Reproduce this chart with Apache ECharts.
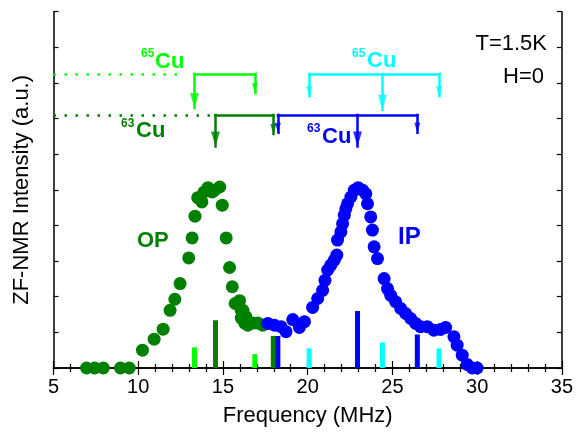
<!DOCTYPE html>
<html><head><meta charset="utf-8">
<script src="https://cdn.jsdelivr.net/npm/echarts@6.0.0/dist/echarts.min.js"></script>
<style>html,body{margin:0;padding:0;background:#fff}#c{width:576px;height:432px}</style>
</head><body><div id="c"></div>
<script>
// ---- data ----
const opFreq = [6.95, 7.43, 7.94, 8.95, 9.47, 10.25, 10.94, 11.47, 11.88, 12.16, 12.47, 12.98, 13.18, 13.35, 13.51, 13.76, 13.88, 14.12, 14.37, 14.51, 14.81, 14.96, 15.19, 15.39, 15.55, 15.72, 15.98, 16.08, 16.08, 16.18, 16.28, 16.35, 16.47, 16.76, 17.06, 17.35];
const opInt  = [0.0, 0.0, 0.0, 0.0, 0.0, 0.50, 0.81, 1.09, 1.62, 1.93, 2.37, 3.09, 3.65, 4.26, 4.78, 4.66, 4.94, 5.06, 4.94, 4.99, 5.08, 4.57, 3.65, 2.82, 2.28, 1.81, 1.89, 1.62, 1.40, 1.62, 1.26, 1.44, 1.20, 1.26, 1.26, 1.20];
const ipFreq = [17.65, 18.04, 18.43, 18.72, 19.12, 19.51, 19.81, 20.29, 20.59, 20.88, 21.02, 21.18, 21.37, 21.57, 21.72, 21.76, 21.96, 22.06, 22.16, 22.25, 22.35, 22.55, 22.75, 22.98, 23.24, 23.43, 23.53, 23.72, 23.82, 23.92, 24.12, 24.51, 24.71, 24.90, 25.19, 25.49, 25.78, 26.08, 26.37, 26.66, 27.06, 27.45, 27.84, 28.14, 28.63, 28.82, 29.12, 29.41, 29.71, 30.00];
const ipInt  = [1.25, 1.20, 1.16, 1.02, 1.36, 1.14, 1.30, 1.70, 1.95, 2.18, 2.46, 2.75, 2.89, 3.03, 3.17, 3.59, 3.82, 4.05, 4.29, 4.47, 4.61, 4.80, 4.99, 5.06, 4.99, 4.89, 4.61, 4.24, 3.87, 3.40, 3.07, 2.51, 2.23, 2.04, 1.86, 1.67, 1.53, 1.39, 1.25, 1.16, 1.16, 1.06, 1.08, 1.14, 0.88, 0.64, 0.36, 0.10, 0.0, 0.0];

// stick spectra (line positions, MHz, and relative heights)
const cu65OPFreq = [13.32, 16.88];          const cu65OPHeight = [0.58, 0.39];
const cu63OPFreq = [14.56, 17.97];          const cu63OPHeight = [1.34, 0.90];
const cu65IPFreq = [20.09, 24.41, 27.75];   const cu65IPHeight = [0.55, 0.72, 0.55];
const cu63IPFreq = [18.24, 22.94, 26.47];   const cu63IPHeight = [0.90, 1.60, 0.94];

// splitting-diagram levels and arrow tips (in intensity units)
const cu65Level = 8.25, cu63Level = 7.10;
const cu65OPTips = [7.30, 7.72];
const cu63OPTips = [6.22, 6.57];
const cu65IPTips = [7.63, 7.25, 7.63];
const cu63IPTips = [6.60, 6.22, 6.60];
const cu65DotEnd = 12.80, cu63DotEnd = 14.34;

const xTickLabels = [5, 10, 15, 20, 25, 30, 35];

// ---- colours ----
const C_DG = '#008000', C_LG = '#00ff00', C_CY = '#00ffff', C_BL = '#0000ff';

const chart = echarts.init(document.getElementById('c'), null, {renderer: 'canvas'});

function bars(freq, h, color) {
  return {type: 'bar', data: freq.map((f, i) => [f, h[i]]), barWidth: 5, barGap: '-100%',
          itemStyle: {color: color}, z: 2, silent: true, animation: false};
}
function comb(freq, level, tips, color) {
  const segs = [{coords: [[Math.min(...freq), level], [Math.max(...freq), level]]}];
  freq.forEach((f, i) => segs.push({coords: [[f, level], [f, tips[i]]]}));
  return {type: 'lines', coordinateSystem: 'cartesian2d', data: segs, symbol: 'none',
          lineStyle: {color: color, width: 2.5, opacity: 1, cap: 'square'}, z: 5, silent: true, animation: false};
}
function heads(freq, tips, heights, color) {
  const main = heights.indexOf(Math.max(...heights));
  return {type: 'scatter', z: 6, silent: true, animation: false,
    data: freq.map((f, i) => {
      const sz = i === main ? [9, 15] : [6, 10];
      return {value: [f, tips[i]], symbolSize: sz, symbolOffset: [0, -sz[1] / 2]};
    }),
    symbol: 'triangle', symbolRotate: 180, itemStyle: {color: color}};
}
function dotted(end, level, color) {
  return {type: 'lines', coordinateSystem: 'cartesian2d', data: [{coords: [[5, level], [end, level]]}],
          symbol: 'none', lineStyle: {color: color, width: 2.5, opacity: 1, type: [2.5, 8.5]}, z: 5, silent: true, animation: false};
}

const font = 'Liberation Sans, Arial, sans-serif';
const axisLine = {show: true, lineStyle: {color: '#000', width: 1.5}};

const option = {
  backgroundColor: '#fff',
  animation: false,
  grid: {left: 53.5, right: 10.5, top: 11.7, bottom: 64},
  xAxis: [
    {type: 'value', min: 5, max: 35, interval: 5, position: 'bottom',
     axisLine: axisLine, axisTick: {inside: true, length: 7, lineStyle: {color: '#000', width: 1.2}},
     minorTick: {show: true, splitNumber: 5, length: 4, lineStyle: {color: '#000', width: 1.2}},
     axisLabel: {color: '#000', fontSize: 20, fontFamily: font, margin: 9,
                 formatter: v => xTickLabels.includes(v) ? String(v) : ''},
     splitLine: {show: false},
     name: 'Frequency (MHz)', nameLocation: 'middle', nameGap: 37,
     nameTextStyle: {color: '#000', fontSize: 22, fontFamily: font}},
    {type: 'value', min: 5, max: 35, interval: 5, position: 'top',
     axisLine: axisLine, axisTick: {inside: true, length: 7, lineStyle: {color: '#000', width: 1.2}},
     minorTick: {show: true, splitNumber: 5, length: 4, lineStyle: {color: '#000', width: 1.2}},
     axisLabel: {show: false}, splitLine: {show: false}}
  ],
  yAxis: [
    {type: 'value', min: 0, max: 10, interval: 1, position: 'left',
     axisLine: axisLine, axisTick: {inside: true, length: 5, lineStyle: {color: '#000', width: 1.2}},
     axisLabel: {show: false}, splitLine: {show: false},
     name: 'ZF-NMR Intensity (a.u.)', nameLocation: 'middle', nameGap: 21,
     nameTextStyle: {color: '#000', fontSize: 22, fontFamily: font}},
    {type: 'value', min: 0, max: 10, interval: 1, position: 'right',
     axisLine: axisLine, axisTick: {inside: true, length: 5, lineStyle: {color: '#000', width: 1.2}},
     axisLabel: {show: false}, splitLine: {show: false}}
  ],
  series: [
    bars(cu65OPFreq, cu65OPHeight, C_LG),
    bars(cu63OPFreq, cu63OPHeight, C_DG),
    bars(cu65IPFreq, cu65IPHeight, C_CY),
    bars(cu63IPFreq, cu63IPHeight, C_BL),
    {type: 'scatter', data: opFreq.map((f, i) => [f, opInt[i]]), symbolSize: 13,
     itemStyle: {color: C_DG, opacity: 1}, z: 3, clip: true},
    {type: 'scatter', data: ipFreq.map((f, i) => [f, ipInt[i]]), symbolSize: 13,
     itemStyle: {color: C_BL, opacity: 1}, z: 3, clip: true},
    dotted(cu65DotEnd, cu65Level, C_LG),
    dotted(cu63DotEnd, cu63Level, C_DG),
    comb(cu65OPFreq, cu65Level, cu65OPTips, C_LG),
    comb(cu63OPFreq, cu63Level, cu63OPTips, C_DG),
    comb(cu65IPFreq, cu65Level, cu65IPTips, C_CY),
    comb(cu63IPFreq, cu63Level, cu63IPTips, C_BL),
    heads(cu65OPFreq, cu65OPTips, cu65OPHeight, C_LG),
    heads(cu63OPFreq, cu63OPTips, cu63OPHeight, C_DG),
    heads(cu65IPFreq, cu65IPTips, cu65IPHeight, C_CY),
    heads(cu63IPFreq, cu63IPTips, cu63IPHeight, C_BL)
  ],
  graphic: [
    {type: 'text', left: 141, top: 48, style: {text: '65', fill: C_LG, font: 'bold 12px ' + font}},
    {type: 'text', left: 155, top: 51, style: {text: 'Cu', fill: C_LG, font: 'bold 22px ' + font}},
    {type: 'text', left: 121, top: 118, style: {text: '63', fill: C_DG, font: 'bold 12px ' + font}},
    {type: 'text', left: 136, top: 120, style: {text: 'Cu', fill: C_DG, font: 'bold 22px ' + font}},
    {type: 'text', left: 352, top: 48, style: {text: '65', fill: C_CY, font: 'bold 12px ' + font}},
    {type: 'text', left: 367, top: 50, style: {text: 'Cu', fill: C_CY, font: 'bold 22px ' + font}},
    {type: 'text', left: 307, top: 123, style: {text: '63', fill: C_BL, font: 'bold 12px ' + font}},
    {type: 'text', left: 322, top: 126, style: {text: 'Cu', fill: C_BL, font: 'bold 22px ' + font}},
    {type: 'text', right: 29, top: 33, style: {text: 'T=1.5K', fill: '#000', font: '22px ' + font}},
    {type: 'text', right: 32, top: 66, style: {text: 'H=0', fill: '#000', font: '22px ' + font}},
    {type: 'text', left: 137, top: 230, style: {text: 'OP', fill: C_DG, font: 'bold 22px ' + font}},
    {type: 'text', left: 398, top: 225, style: {text: 'IP', fill: C_BL, font: 'bold 24px ' + font}}
  ]
};
chart.setOption(option);
</script>
</body></html>
